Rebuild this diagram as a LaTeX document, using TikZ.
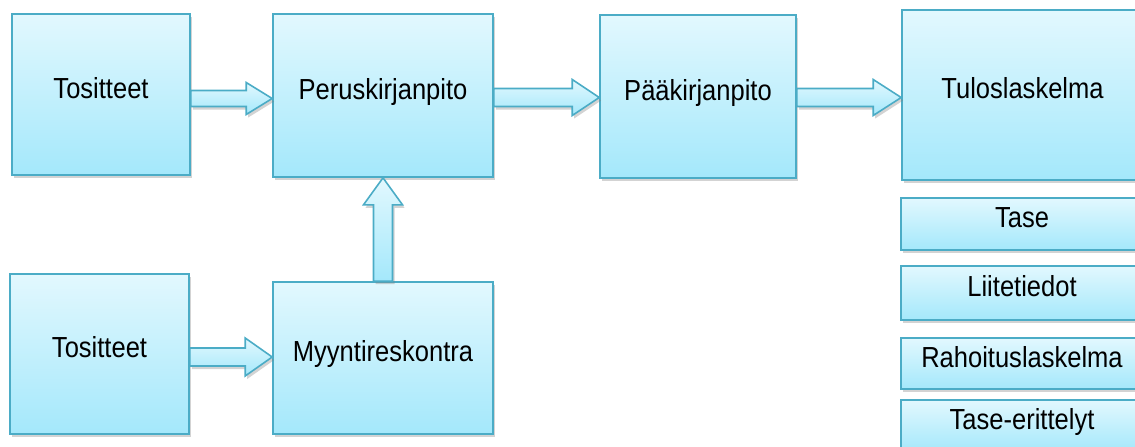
\documentclass[tikz,border=0pt]{standalone}
\usepackage{fontspec}
\setmainfont{Liberation Sans}[FakeStretch=0.88]
\usetikzlibrary{calc,shadows}
\definecolor{boxline}{HTML}{4BACC6}
\definecolor{boxtop}{HTML}{E2F8FE}
\definecolor{boxbottom}{HTML}{A4E8FB}
\tikzset{
  shade box/.style={draw=boxline, line width=1.6pt, top color=boxtop, bottom color=boxbottom,
    drop shadow={opacity=0.35, shadow xshift=2pt, shadow yshift=-3pt}},
  stage/.style={shade box, inner sep=0pt, font=\fontsize{29}{32}\selectfont,
    text height=21pt, text depth=14pt},
  flow/.style={shade box}
}
\begin{document}
\begin{tikzpicture}[x=1pt,y=-1pt]
    \clip (0,0) rectangle (1135,447);
    % main boxes
    \node[stage, minimum width=178pt, minimum height=161pt] (tos1) at (101,94.5) {Tositteet};
    \node[stage, minimum width=220pt, minimum height=163pt] (perus) at (383,95.5) {Peruskirjanpito};
    \node[stage, minimum width=196pt, minimum height=163pt] (paa) at (698,96.5) {Pääkirjanpito};
    \node[stage, minimum width=241pt, minimum height=170pt] (tulos) at (1022.5,95) {Tuloslaskelma};
    \node[stage, minimum width=179pt, minimum height=160pt] (tos2) at (99.5,354) {Tositteet};
    \node[stage, minimum width=220pt, minimum height=152pt] (myynti) at (383,358) {Myyntireskontra};
    % reports
    \node[stage, minimum width=242pt, minimum height=52pt] (tase) at (1022,224) {Tase};
    \node[stage, minimum width=242pt, minimum height=54pt] (liite) at (1022,293) {Liitetiedot};
    \node[stage, minimum width=242pt, minimum height=51pt] (rahoitus) at (1022,363.5) {Rahoituslaskelma};
    \node[stage, minimum width=242pt, minimum height=52pt] (erittely) at (1022,426) {Tase-erittelyt};
    % block arrows
    \path[flow] let \p1=([yshift=-4pt]tos1.east), \p2=(perus.west) in
        (\x1,\y1+8pt) -- (\x2-26pt,\y1+8pt) -- (\x2-26pt,\y1+16pt) -- (\x2,\y1)
        -- (\x2-26pt,\y1-16pt) -- (\x2-26pt,\y1-8pt) -- (\x1,\y1-8pt) -- cycle;
    \path[flow] let \p1=([yshift=-2pt]perus.east), \p2=(paa.west) in
        (\x1,\y1+9pt) -- (\x2-27pt,\y1+9pt) -- (\x2-27pt,\y1+18pt) -- (\x2,\y1)
        -- (\x2-27pt,\y1-18pt) -- (\x2-27pt,\y1-9pt) -- (\x1,\y1-9pt) -- cycle;
    \path[flow] let \p1=([yshift=-1pt]paa.east), \p2=(tulos.west) in
        (\x1,\y1+9pt) -- (\x2-28pt,\y1+9pt) -- (\x2-28pt,\y1+18pt) -- (\x2,\y1)
        -- (\x2-28pt,\y1-18pt) -- (\x2-28pt,\y1-9pt) -- (\x1,\y1-9pt) -- cycle;
    \path[flow] let \p1=([yshift=-3pt]tos2.east), \p2=(myynti.west) in
        (\x1,\y1+9pt) -- (\x2-27pt,\y1+9pt) -- (\x2-27pt,\y1+19pt) -- (\x2,\y1)
        -- (\x2-27pt,\y1-19pt) -- (\x2-27pt,\y1-9pt) -- (\x1,\y1-9pt) -- cycle;
    \path[flow] let \p1=(myynti.north), \p2=(perus.south) in
        (\x1-9.5pt,\y1) -- (\x1-9.5pt,\y2-27pt) -- (\x1-19.5pt,\y2-27pt) -- (\x1,\y2)
        -- (\x1+19.5pt,\y2-27pt) -- (\x1+9.5pt,\y2-27pt) -- (\x1+9.5pt,\y1) -- cycle;
\end{tikzpicture}
\end{document}
